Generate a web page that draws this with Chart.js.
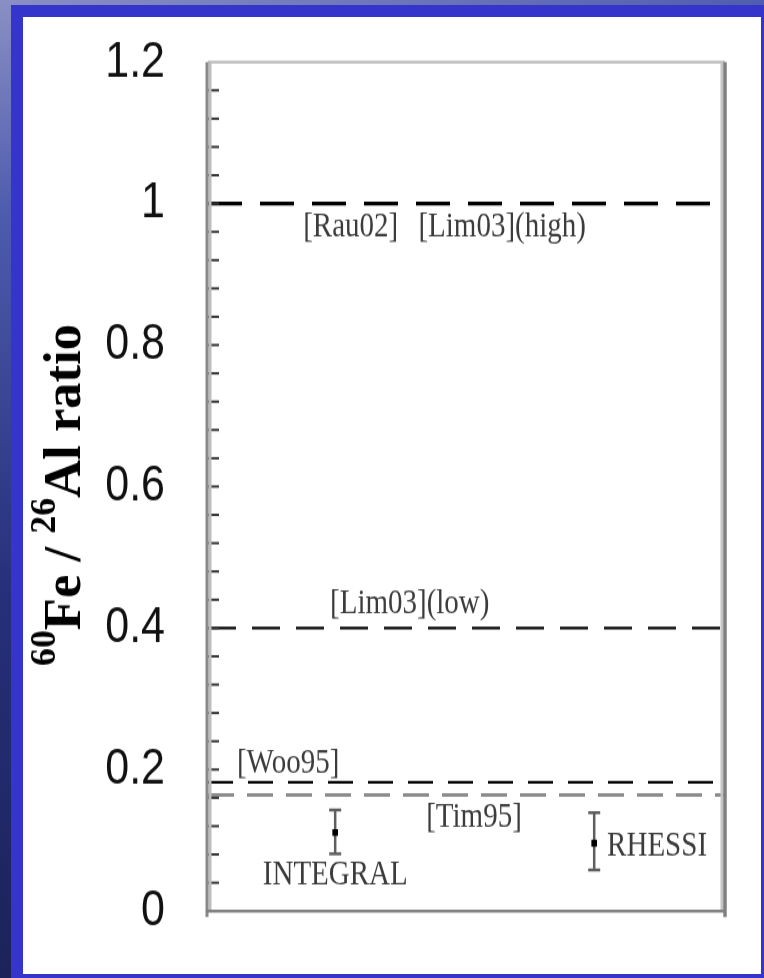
<!DOCTYPE html>
<html>
<head>
<meta charset="utf-8">
<script src="https://cdn.jsdelivr.net/npm/chart.js@4/dist/chart.umd.min.js"></script>
<style>
  body {
    margin: 0;
    width: 764px;
    height: 978px;
    overflow: hidden;
    position: relative;
    background: linear-gradient(165deg, #8a90c4 0%, #4e5cae 18%, #26307a 50%, #161c48 100%);
  }
  #frame { position: absolute; left: 11px; top: 5px; width: 753px; height: 973px; background: #3535cc; }
  #panel { position: absolute; left: 23px; top: 17px; width: 738px; height: 957px; background: #fff; }
  #chart { position: absolute; left: 0; top: 0; transform: scaleY(1.2); transform-origin: 0 0; }
</style>
</head>
<body>
<div id="frame"></div>
<div id="panel"></div>
<canvas id="chart" width="764" height="815"></canvas>
<script>
// y axis
const yMin = 0;
const yMax = 1.2;
const yStep = 0.2;
const minorStep = 0.04;

// model predictions (horizontal reference levels)
const refNames = ['[Rau02] [Lim03](high)', '[Lim03](low)', '[Woo95]', '[Tim95]'];
const refLevels = [1.0, 0.4, 0.182, 0.164];

// measurements
const instruments = ['INTEGRAL', 'RHESSI'];
const instX = [0.246, 0.747];
const ratioValue = [0.111, 0.096];
const ratioLow = [0.081, 0.058];
const ratioHigh = [0.143, 0.139];

// text notes, anchored in data units (x as fraction of the axis)
const noteTexts = ['[Rau02]', '[Lim03](high)', '[Lim03](low)', '[Woo95]', '[Tim95]', 'INTEGRAL', 'RHESSI'];
const noteX = [0.184, 0.407, 0.236, 0.056, 0.422, 0.106, 0.772];
const noteY = [0.954, 0.954, 0.421, 0.195, 0.119, 0.037, 0.078];

// line styles for the reference levels
const refColor = ['#000', '#000', '#000', '#8c8c8c'];
const refWidth = [3.3, 2.2, 2.2, 2.8];
const refDash = [[34, 18], [28, 16], [25, 15], [26, 13]];

const refSets = refLevels.map((v, i) => ({
    type: 'line',
    label: refNames[i],
    data: [{x: 0, y: v}, {x: 1, y: v}],
    borderColor: refColor[i],
    borderWidth: refWidth[i],
    borderDash: refDash[i],
    pointRadius: 0,
    fill: false
}));

const pointSet = {
    type: 'scatter',
    label: 'measurements',
    data: instX.map((x, i) => ({x: x, y: ratioValue[i]})),
    pointStyle: 'rect',
    pointRadius: 4,
    backgroundColor: '#000',
    borderColor: '#000',
    borderWidth: 0
};

// minor ticks, axis frame
const framePlugin = {
    id: 'frame',
    afterDraw(chart) {
        const {ctx, chartArea: a, scales: {y}} = chart;
        ctx.save();
        ctx.strokeStyle = '#333';
        ctx.lineWidth = 2;
        const n = Math.round((yMax - yMin) / minorStep);
        for (let i = 1; i < n; i++) {
            const py = y.getPixelForValue(yMin + i * minorStep);
            ctx.beginPath();
            ctx.moveTo(a.left, py);
            ctx.lineTo(a.left + 11, py);
            ctx.stroke();
        }
        // top
        ctx.strokeStyle = '#c0c0c0';
        ctx.lineWidth = 2.5;
        ctx.beginPath();
        ctx.moveTo(a.left, a.top);
        ctx.lineTo(a.right, a.top);
        ctx.stroke();
        // left
        ctx.lineWidth = 3;
        ctx.strokeStyle = '#bdbdbd';
        ctx.beginPath(); ctx.moveTo(a.left + 2, a.top); ctx.lineTo(a.left + 2, a.bottom); ctx.stroke();
        ctx.strokeStyle = '#8a8a8a';
        ctx.beginPath(); ctx.moveTo(a.left - 1, a.top); ctx.lineTo(a.left - 1, a.bottom + 5); ctx.stroke();
        // right
        ctx.strokeStyle = '#c4c4c4';
        ctx.beginPath(); ctx.moveTo(a.right - 3, a.top); ctx.lineTo(a.right - 3, a.bottom); ctx.stroke();
        ctx.strokeStyle = '#808080';
        ctx.lineWidth = 3.5;
        ctx.beginPath(); ctx.moveTo(a.right, a.top); ctx.lineTo(a.right, a.bottom + 5); ctx.stroke();
        // bottom
        ctx.lineWidth = 2.5;
        ctx.beginPath(); ctx.moveTo(a.left - 2, a.bottom); ctx.lineTo(a.right + 1, a.bottom); ctx.stroke();
        ctx.restore();
    }
};

const errorBarPlugin = {
    id: 'errorBars',
    beforeDatasetsDraw(chart) {
        const {ctx, scales: {x, y}} = chart;
        ctx.save();
        ctx.strokeStyle = '#5e5e5e';
        ctx.lineWidth = 2.5;
        instX.forEach((xv, i) => {
            const px = x.getPixelForValue(xv);
            const top = y.getPixelForValue(ratioHigh[i]);
            const bot = y.getPixelForValue(ratioLow[i]);
            ctx.beginPath();
            ctx.moveTo(px, top); ctx.lineTo(px, bot);
            ctx.moveTo(px - 6, top); ctx.lineTo(px + 6, top);
            ctx.moveTo(px - 6, bot); ctx.lineTo(px + 6, bot);
            ctx.stroke();
        });
        ctx.restore();
    }
};

const notesPlugin = {
    id: 'notes',
    afterDatasetsDraw(chart) {
        const {ctx, scales: {x, y}} = chart;
        ctx.save();
        ctx.font = '29px "Liberation Serif", "Times New Roman", serif';
        ctx.fillStyle = '#3c3c3c';
        ctx.textAlign = 'left';
        ctx.textBaseline = 'alphabetic';
        noteTexts.forEach((t, i) => {
            ctx.fillText(t, x.getPixelForValue(noteX[i]), y.getPixelForValue(noteY[i]));
        });
        ctx.restore();
    }
};

// rotated y title with superscripts: 60Fe / 26Al ratio
const titleParts = [['60', true], ['Fe / ', false], ['26', true], ['Al ratio', false]];
const titleLength = 285;
const titlePlugin = {
    id: 'yTitle',
    afterDraw(chart) {
        const ctx = chart.ctx;
        const a = chart.chartArea;
        const fontFor = sup => sup ? 'bold 36px "Liberation Serif", serif' : 'bold 53px "Liberation Serif", serif';
        ctx.save();
        let total = 0;
        titleParts.forEach(([txt, sup]) => {
            ctx.font = fontFor(sup);
            total += ctx.measureText(txt).width;
        });
        ctx.translate(80, (a.top + a.bottom) / 2 + titleLength / 2 + 7);
        ctx.rotate(-Math.PI / 2);
        ctx.scale(titleLength / total, 1);
        ctx.fillStyle = '#000';
        ctx.textBaseline = 'alphabetic';
        let pos = 0;
        titleParts.forEach(([txt, sup]) => {
            ctx.font = fontFor(sup);
            ctx.fillText(txt, pos, sup ? -25 : 0);
            pos += ctx.measureText(txt).width;
        });
        ctx.restore();
    }
};

const chart = new Chart(document.getElementById('chart'), {
    data: { datasets: refSets.concat([pointSet]) },
    options: {
        responsive: false,
        animation: false,
        layout: { padding: { left: 0, top: 51.7, right: 39, bottom: 55.8 } },
        plugins: { legend: { display: false }, tooltip: { enabled: false } },
        scales: {
            x: { type: 'linear', min: 0, max: 1, display: false },
            y: {
                type: 'linear',
                min: yMin,
                max: yMax,
                grid: { display: true, drawOnChartArea: false, drawTicks: true, tickLength: 43, color: 'rgba(0,0,0,0)' },
                border: { display: false },
                ticks: {
                    stepSize: yStep,
                    padding: 0,
                    color: '#111',
                    font: { family: '"Liberation Sans", Arial, sans-serif', size: 43 },
                    callback: v => Number(v.toFixed(2)).toString()
                },
                afterFit(scale) { scale.width = 208; }
            }
        }
    },
    plugins: [errorBarPlugin, notesPlugin, framePlugin, titlePlugin]
});
</script>
</body>
</html>
